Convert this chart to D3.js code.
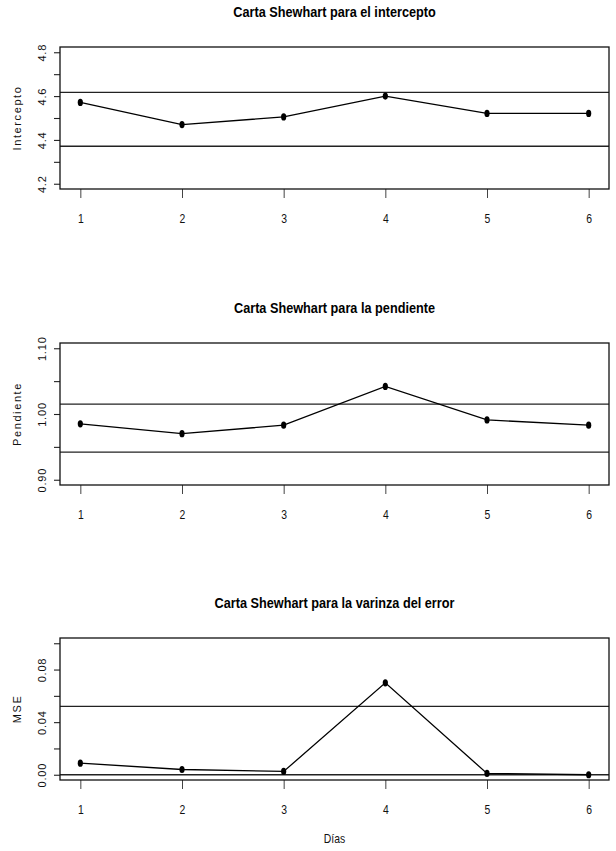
<!DOCTYPE html>
<html>
<head>
<meta charset="utf-8">
<script src="https://cdn.jsdelivr.net/npm/d3@7"></script>
<style>
  body { margin: 0; background: #fff; }
  svg { display: block; }
</style>
</head>
<body>
<svg width="616" height="851"></svg>
<script>
const dias = [1, 2, 3, 4, 5, 6];

const intercepto = [4.571, 4.470, 4.505, 4.600, 4.521, 4.521];
const pendiente = [0.985, 0.970, 0.983, 1.042, 0.991, 0.983];
const mse = [0.0088, 0.0040, 0.0025, 0.0699, 0.0010, 0.0000];

// limites de control (inferior, superior)
const limIntercepto = [4.371, 4.617];
const limPendiente = [0.942, 1.015];
const limMse = [0.0, 0.052];

const ylimIntercepto = [4.2, 4.8];
const ylimPendiente = [0.9, 1.1];
const ylimMse = [0.0, 0.1];

const ticksIntercepto = [4.2, 4.3, 4.4, 4.5, 4.6, 4.7, 4.8];
const etiqIntercepto = [4.2, 4.4, 4.6, 4.8];
const ticksPendiente = [0.90, 0.95, 1.00, 1.05, 1.10];
const etiqPendiente = [0.90, 1.00, 1.10];
const ticksMse = [0.00, 0.02, 0.04, 0.06, 0.08, 0.10];
const etiqMse = [0.00, 0.04, 0.08];

const titulos = [
  "Carta Shewhart para el intercepto",
  "Carta Shewhart para la pendiente",
  "Carta Shewhart para la varinza del error"
];
const ylabels = ["Intercepto", "Pendiente", "MSE"];

const svg = d3.select("svg");
const sans = "'Liberation Sans', Arial, sans-serif";
const squeeze = "scale(0.8,1)"; // imita Arial Narrow

const left = 60, right = 609, h = 142;
const tops = [47, 343, 638];

const x = d3.scaleLinear().domain([0.8, 6.2]).range([left, right]);

const panels = [
  { vals: intercepto, lim: limIntercepto, ylim: ylimIntercepto, ticks: ticksIntercepto, etiq: etiqIntercepto, fmt: d3.format(".1f") },
  { vals: pendiente, lim: limPendiente, ylim: ylimPendiente, ticks: ticksPendiente, etiq: etiqPendiente, fmt: d3.format(".2f") },
  { vals: mse, lim: limMse, ylim: ylimMse, ticks: ticksMse, etiq: etiqMse, fmt: d3.format(".2f") }
];

panels.forEach((p, i) => {
  const g = svg.append("g").attr("transform", `translate(0,${tops[i]})`);
  const pad = (p.ylim[1] - p.ylim[0]) * 0.04;
  const y = d3.scaleLinear().domain([p.ylim[0] - pad, p.ylim[1] + pad]).range([h, 0]);

  // titulo
  g.append("g")
    .attr("transform", `translate(${(left + right) / 2},-30) scale(0.82,1)`)
    .append("text")
    .attr("text-anchor", "middle")
    .style("font-family", sans)
    .style("font-weight", "bold")
    .style("font-size", "15.5px")
    .text(titulos[i]);

  // eje y
  const yAxis = g.append("g")
    .attr("transform", `translate(${left},0)`)
    .call(d3.axisLeft(y)
      .tickValues(p.ticks)
      .tickSize(6)
      .tickFormat(d => p.etiq.some(e => Math.abs(e - d) < 1e-9) ? p.fmt(d) : ""));
  yAxis.select(".domain").remove();
  yAxis.selectAll("line").attr("stroke", "#222").attr("stroke-width", 1.1);
  yAxis.selectAll("text")
    .attr("x", null)
    .attr("dy", null)
    .attr("text-anchor", "middle")
    .attr("transform", "translate(-14,0) rotate(-90)")
    .style("font-family", sans)
    .style("font-size", "11px")
    .style("letter-spacing", "0.8px")
    .attr("fill", "#111");

  // eje x
  const xAxis = g.append("g")
    .attr("transform", `translate(0,${h})`)
    .call(d3.axisBottom(x).tickValues(dias).tickSize(9).tickPadding(16).tickFormat(d3.format("d")));
  xAxis.select(".domain").remove();
  xAxis.selectAll("line").attr("stroke", "#444").attr("stroke-width", 1);
  xAxis.selectAll("text")
    .attr("transform", squeeze)
    .style("font-family", sans)
    .style("font-size", "13px")
    .attr("fill", "#111");

  // etiqueta y
  g.append("text")
    .attr("transform", `translate(21,${h / 2}) rotate(-90)`)
    .attr("text-anchor", "middle")
    .style("font-family", sans)
    .style("font-size", "11px")
    .style("letter-spacing", "1.6px")
    .attr("fill", "#111")
    .text(ylabels[i]);

  // limites de control
  g.selectAll("line.lim")
    .data(p.lim)
    .join("line")
    .attr("class", "lim")
    .attr("x1", left)
    .attr("x2", right)
    .attr("y1", d => y(d))
    .attr("y2", d => y(d))
    .attr("stroke", "#222")
    .attr("stroke-width", 1.3);

  // serie
  g.append("path")
    .datum(p.vals)
    .attr("fill", "none")
    .attr("stroke", "#000")
    .attr("stroke-width", 1.3)
    .attr("d", d3.line().x((d, j) => x(dias[j])).y(d => y(d)));

  g.selectAll("ellipse")
    .data(p.vals)
    .join("ellipse")
    .attr("cx", (d, j) => x(dias[j]))
    .attr("cy", d => y(d))
    .attr("rx", 2.6)
    .attr("ry", 3.6)
    .attr("fill", "#000");

  // caja
  g.append("rect")
    .attr("x", left)
    .attr("y", 0)
    .attr("width", right - left)
    .attr("height", h)
    .attr("fill", "none")
    .attr("stroke", "#111")
    .attr("stroke-width", 1.3);
});

svg.append("g")
  .attr("transform", `translate(${(left + right) / 2},843) ${squeeze}`)
  .append("text")
  .attr("text-anchor", "middle")
  .style("font-family", sans)
  .style("font-size", "13px")
  .attr("fill", "#111")
  .text("Días");
</script>
</body>
</html>
